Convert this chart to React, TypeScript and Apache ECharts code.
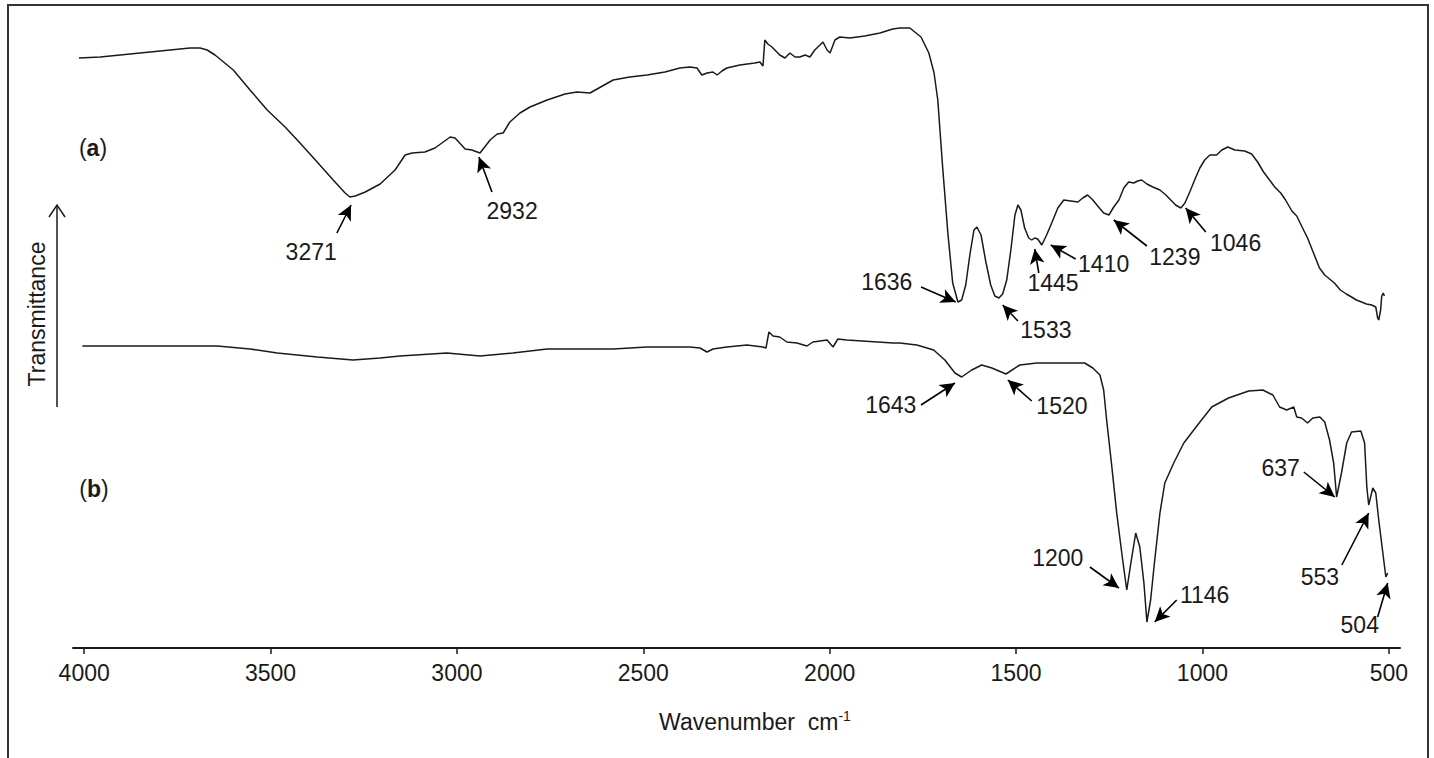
import React, { useEffect, useRef } from 'react';
import * as echarts from 'echarts';

// x tick labels (wavenumber, cm-1)
const xTicks = [4000, 3500, 3000, 2500, 2000, 1500, 1000, 500];

// Spectrum (a)
const wavenumberA = [4014, 3957, 3823, 3716, 3689, 3670, 3649, 3600, 3555, 3509,
  3461, 3421, 3375, 3332, 3300, 3287, 3273, 3246, 3206, 3166,
  3139, 3120, 3086, 3059, 3018, 3005, 2978, 2960, 2938, 2911,
  2892, 2876, 2858, 2831, 2804, 2758, 2710, 2678, 2643, 2581,
  2536, 2490, 2442, 2402, 2375, 2356, 2343, 2329, 2313, 2302,
  2289, 2276, 2241, 2201, 2187, 2179, 2174, 2166, 2155, 2134,
  2120, 2107, 2093, 2080, 2066, 2053, 2040, 2026, 2018, 2007,
  1999, 1986, 1973, 1946, 1906, 1865, 1831, 1812, 1785, 1755,
  1734, 1720, 1710, 1697, 1683, 1670, 1656, 1646, 1635, 1624,
  1613, 1605, 1594, 1581, 1568, 1557, 1546, 1536, 1525, 1514,
  1503, 1495, 1487, 1477, 1466, 1458, 1450, 1442, 1431, 1418,
  1401, 1388, 1372, 1353, 1334, 1321, 1308, 1294, 1281, 1265,
  1251, 1238, 1224, 1211, 1198, 1184, 1174, 1163, 1149, 1133,
  1114, 1098, 1085, 1072, 1058, 1047, 1034, 1021, 1007, 994,
  980, 962, 948, 932, 913, 887, 868, 852, 836, 820,
  806, 790, 777, 760, 747, 734, 718, 702, 686, 672,
  659, 646, 630, 614, 600, 587, 573, 560, 546, 535,
  530, 527, 522, 519, 515, 512];
const transmittanceA = [590, 591, 596, 600, 600, 598, 593, 578, 558, 538,
  521, 505, 486, 468, 455, 451, 452, 456, 464, 478,
  493, 495, 496, 500, 511, 510, 499, 498, 495, 508,
  514, 515, 526, 535, 541, 548, 554, 556, 555, 568,
  571, 573, 576, 580, 581, 580, 573, 575, 576, 573,
  577, 580, 583, 585, 586, 582, 608, 604, 601, 593,
  590, 595, 591, 591, 593, 591, 598, 603, 606, 598,
  595, 608, 611, 610, 612, 615, 619, 620, 620, 611,
  595, 575, 548, 481, 415, 365, 346, 348, 363, 393,
  418, 421, 413, 386, 363, 352, 350, 354, 368, 398,
  433, 443, 438, 420, 410, 408, 410, 409, 403, 413,
  428, 440, 448, 447, 446, 450, 453, 448, 442, 435,
  433, 441, 448, 460, 466, 465, 467, 468, 464, 461,
  458, 453, 448, 443, 440, 445, 456, 468, 480, 488,
  493, 493, 498, 501, 498, 497, 494, 486, 476, 468,
  461, 455, 448, 437, 432, 422, 410, 395, 380, 373,
  369, 365, 358, 354, 351, 348, 346, 344, 343, 341,
  330, 328, 338, 352, 355, 352];

// Spectrum (b)
const wavenumberB = [4005, 3823, 3643, 3555, 3482, 3375, 3279, 3206, 3153, 3027,
  2938, 2850, 2758, 2581, 2490, 2375, 2348, 2329, 2313, 2276,
  2222, 2179, 2171, 2163, 2152, 2134, 2115, 2088, 2061, 2045,
  2007, 1991, 1978, 1954, 1830, 1812, 1766, 1721, 1691, 1664,
  1646, 1619, 1592, 1565, 1527, 1490, 1444, 1399, 1353, 1316,
  1294, 1275, 1265, 1257, 1243, 1230, 1214, 1203, 1192, 1179,
  1168, 1157, 1149, 1139, 1128, 1114, 1101, 1077, 1050, 1013,
  975, 930, 876, 838, 811, 793, 774, 755, 747, 734,
  718, 704, 685, 672, 659, 648, 640, 627, 613, 600,
  575, 565, 559, 554, 543, 535, 527, 516, 508, 503];
const transmittanceB = [302, 302, 302, 299, 295, 291, 288, 290, 292, 295,
  292, 295, 299, 299, 301, 301, 300, 296, 299, 301,
  303, 301, 300, 316, 312, 311, 306, 305, 302, 306,
  308, 301, 309, 308, 305, 305, 303, 298, 288, 275,
  271, 278, 283, 280, 274, 283, 285, 285, 285, 285,
  280, 273, 258, 228, 181, 135, 88, 58, 85, 115,
  101, 65, 26, 48, 88, 135, 165, 185, 205, 223,
  241, 250, 257, 258, 253, 241, 238, 241, 231, 230,
  225, 230, 231, 226, 208, 185, 151, 175, 205, 216,
  217, 205, 161, 143, 160, 155, 128, 95, 71, 75];

// Peak annotations: label text, label anchor, arrow tail, arrow head (data coords)
const peakLabels = ['3271', '2932', '1636', '1533', '1445', '1410', '1239', '1046',
  '1643', '1520', '1200', '1146', '637', '553', '504'];
const labelAt = [[3391, 396], [2852, 437], [1847, 366], [1420, 318], [1401, 365], [1265, 384], [1074, 391], [911, 405],
  [1836, 243], [1377, 242], [1388, 90], [994, 53], [790, 180], [685, 71], [578, 23]];
const arrowTail = [[3322, 415], [2906, 456], [1755, 361], [1495, 327], [1439, 375], [1340, 389], [1149, 402], [991, 416],
  [1755, 243], [1458, 247], [1302, 81], [1069, 48], [728, 176], [626, 83], [530, 31]];
const arrowHead = [[3284, 443], [2941, 491], [1662, 346], [1536, 343], [1450, 399], [1407, 403], [1238, 428], [1045, 440],
  [1664, 265], [1522, 268], [1224, 60], [1128, 26], [645, 151], [554, 135], [503, 65]];

const FONT = '"Liberation Sans", Arial, Helvetica, sans-serif';
const INK = '#1a1a1a';
const FS = 23;

export default function App() {
  const ref = useRef<HTMLDivElement>(null);

  useEffect(() => {
    if (!ref.current) return;
    const chart = echarts.init(ref.current, null, { renderer: 'svg' });

    const dataA = wavenumberA.map((w, i) => [w, transmittanceA[i]]);
    const dataB = wavenumberB.map((w, i) => [w, transmittanceB[i]]);

    chart.setOption({
      animation: false,
      backgroundColor: '#ffffff',
      grid: { left: 73, right: 34, top: 18, bottom: 110, containLabel: false },
      xAxis: {
        type: 'value',
        inverse: true,
        min: 470,
        max: 4030,
        splitLine: { show: false },
        axisLine: { show: true, lineStyle: { color: INK, width: 2 } },
        axisTick: { show: true, customValues: xTicks, length: 6, inside: false, lineStyle: { color: INK, width: 1.5 } },
        axisLabel: {
          show: true, customValues: xTicks, margin: 13, fontSize: FS, color: INK, fontFamily: FONT,
          formatter: (v: number) => String(v),
        },
      },
      yAxis: { type: 'value', min: 0, max: 630, show: false },
      series: [
        {
          name: 'a', type: 'line', data: dataA, showSymbol: false, symbol: 'none',
          lineStyle: { color: INK, width: 1.5 }, z: 3,
        },
        {
          name: 'b', type: 'line', data: dataB, showSymbol: false, symbol: 'none',
          lineStyle: { color: INK, width: 1.5 }, z: 3,
        },
        {
          name: 'arrows', type: 'line', data: [], symbol: 'none',
          markLine: {
            silent: true,
            symbol: ['none', 'arrow'],
            symbolSize: [11, 15],
            label: { show: false },
            lineStyle: { color: '#000', width: 1.6, type: 'solid' },
            emphasis: { disabled: true },
            data: peakLabels.map((_, i) => [
              { coord: arrowTail[i] },
              { coord: arrowHead[i] },
            ]),
          },
        },
        {
          name: 'labels', type: 'scatter', symbolSize: 1,
          itemStyle: { color: 'rgba(0,0,0,0)', opacity: 1 },
          data: peakLabels.map((t, i) => ({ name: t, value: labelAt[i] })),
          label: {
            show: true, position: 'inside', formatter: '{b}', opacity: 1,
            fontSize: FS, color: INK, fontFamily: FONT,
          },
          labelLayout: { hideOverlap: false },
          emphasis: { disabled: true },
          z: 4,
        },
      ],
      graphic: [
        {
          type: 'rect', silent: true,
          shape: { x: 8, y: 5, width: 1420, height: 800 },
          style: { fill: 'none', stroke: '#333', lineWidth: 2 },
        },
        {
          type: 'text', x: 93, y: 148,
          style: {
            text: '({b|a})', align: 'center', verticalAlign: 'middle',
            font: `${FS}px ${FONT}`, fill: INK,
            rich: { b: { fontWeight: 'bold', fontSize: FS, fontFamily: FONT, fill: INK } },
          },
        },
        {
          type: 'text', x: 94, y: 489,
          style: {
            text: '({b|b})', align: 'center', verticalAlign: 'middle',
            font: `${FS}px ${FONT}`, fill: INK,
            rich: { b: { fontWeight: 'bold', fontSize: FS, fontFamily: FONT, fill: INK } },
          },
        },
        {
          type: 'text', x: 37, y: 314, rotation: Math.PI / 2,
          style: {
            text: 'Transmittance', align: 'center', verticalAlign: 'middle',
            font: `${FS}px ${FONT}`, fill: INK,
          },
        },
        {
          type: 'line', shape: { x1: 57, y1: 407, x2: 57, y2: 206 },
          style: { stroke: INK, lineWidth: 1.5 },
        },
        {
          type: 'polyline', shape: { points: [[49, 217], [57, 205], [65, 217]] },
          style: { stroke: INK, lineWidth: 1.5, fill: 'none' },
        },
        {
          type: 'text', x: 755, y: 722,
          style: {
            text: '{n|Wavenumber  cm}{s|-1}', align: 'center', verticalAlign: 'middle',
            fill: INK,
            rich: {
              n: { fontSize: FS, fontFamily: FONT, fill: INK },
              s: { fontSize: 14, fontFamily: FONT, fill: INK, verticalAlign: 'top', padding: [0, 0, 12, 0] },
            },
          },
        },
      ],
    });

    return () => chart.dispose();
  }, []);

  return (
    <div
      ref={ref}
      style={{ position: 'absolute', left: 0, top: 0, width: 1434, height: 758, background: '#fff' }}
    />
  );
}
